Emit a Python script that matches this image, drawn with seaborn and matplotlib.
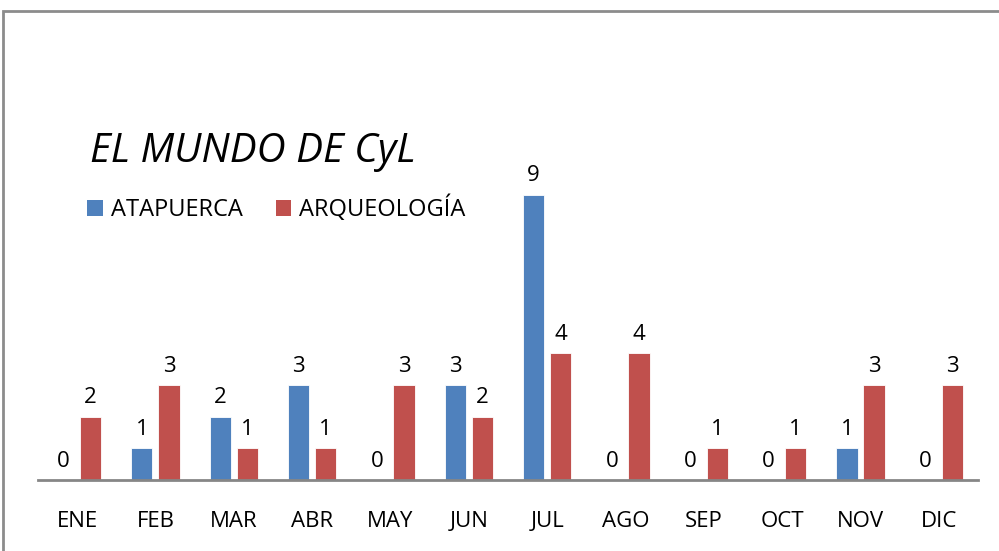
import pandas as pd
import matplotlib.pyplot as plt
import seaborn as sns
from matplotlib.patches import Rectangle, Patch

# --------------------------------
# Data
# --------------------------------
months = ["ENE", "FEB", "MAR", "ABR", "MAY", "JUN",
          "JUL", "AGO", "SEP", "OCT", "NOV", "DIC"]
atapuerca = [0, 1, 2, 3, 0, 3, 9, 0, 0, 0, 1, 0]
arqueologia = [2, 3, 1, 1, 3, 2, 4, 4, 1, 1, 3, 3]
series_names = ["ATAPUERCA", "ARQUEOLOGÍA"]
colors = ["#4F81BD", "#C0504D"]

df = pd.DataFrame({
    "mes": months * 2,
    "valor": atapuerca + arqueologia,
    "serie": [series_names[0]] * len(months) + [series_names[1]] * len(months),
})

# --------------------------------
# Plot
# --------------------------------
sns.set_style("white")
plt.rcParams["font.family"] = ["Open Sans", "DejaVu Sans"]
plt.rcParams["text.color"] = "black"
plt.rcParams["xtick.color"] = "black"

fig = plt.figure(figsize=(9.99, 5.51), dpi=100)
ax = fig.add_axes([0.038, 1 - 480 / 551, 0.941, (480 - 163) / 551])

sns.barplot(
    data=df, x="mes", y="valor", hue="serie",
    order=months, hue_order=series_names, palette=colors,
    width=0.69, gap=0.22, saturation=1, legend=False, ax=ax,
    edgecolor="white", linewidth=0.6,
)

for cont in ax.containers:
    labels = ax.bar_label(cont, padding=6, fontsize=16, color="black")
    for t in labels:
        t.set_clip_on(False)

ax.set_ylim(0, 10)
ax.set_xlim(-0.5, 11.5)
ax.set_xlabel("")
ax.set_ylabel("")
ax.set_yticks([])
ax.tick_params(axis="x", length=0, pad=22, labelsize=16, labelcolor="black")
for side in ["top", "right", "left"]:
    ax.spines[side].set_visible(False)
ax.spines["bottom"].set_color("#868686")
ax.spines["bottom"].set_linewidth(2)

# title and legend in the top-left
fig.text(90 / 999, 1 - 152 / 551, "EL MUNDO DE CyL", fontsize=29,
         style="italic", va="center", ha="left", color="black")
handles = [Patch(facecolor=c, edgecolor="none") for c in colors]
fig.legend(handles, series_names, loc="center left",
           bbox_to_anchor=(66 / 999, 1 - 209 / 551), ncol=2, frameon=False,
           fontsize=17, handlelength=0.65, handleheight=0.65,
           handletextpad=0.35, columnspacing=1.4)

# chart border
fig.patches.append(Rectangle((3 / 999, -0.1), 1.2, 1 - 11 / 551 + 0.1,
                             transform=fig.transFigure, fill=False,
                             edgecolor="#8C8C8C", linewidth=2))

plt.savefig("out.png", dpi=100)
